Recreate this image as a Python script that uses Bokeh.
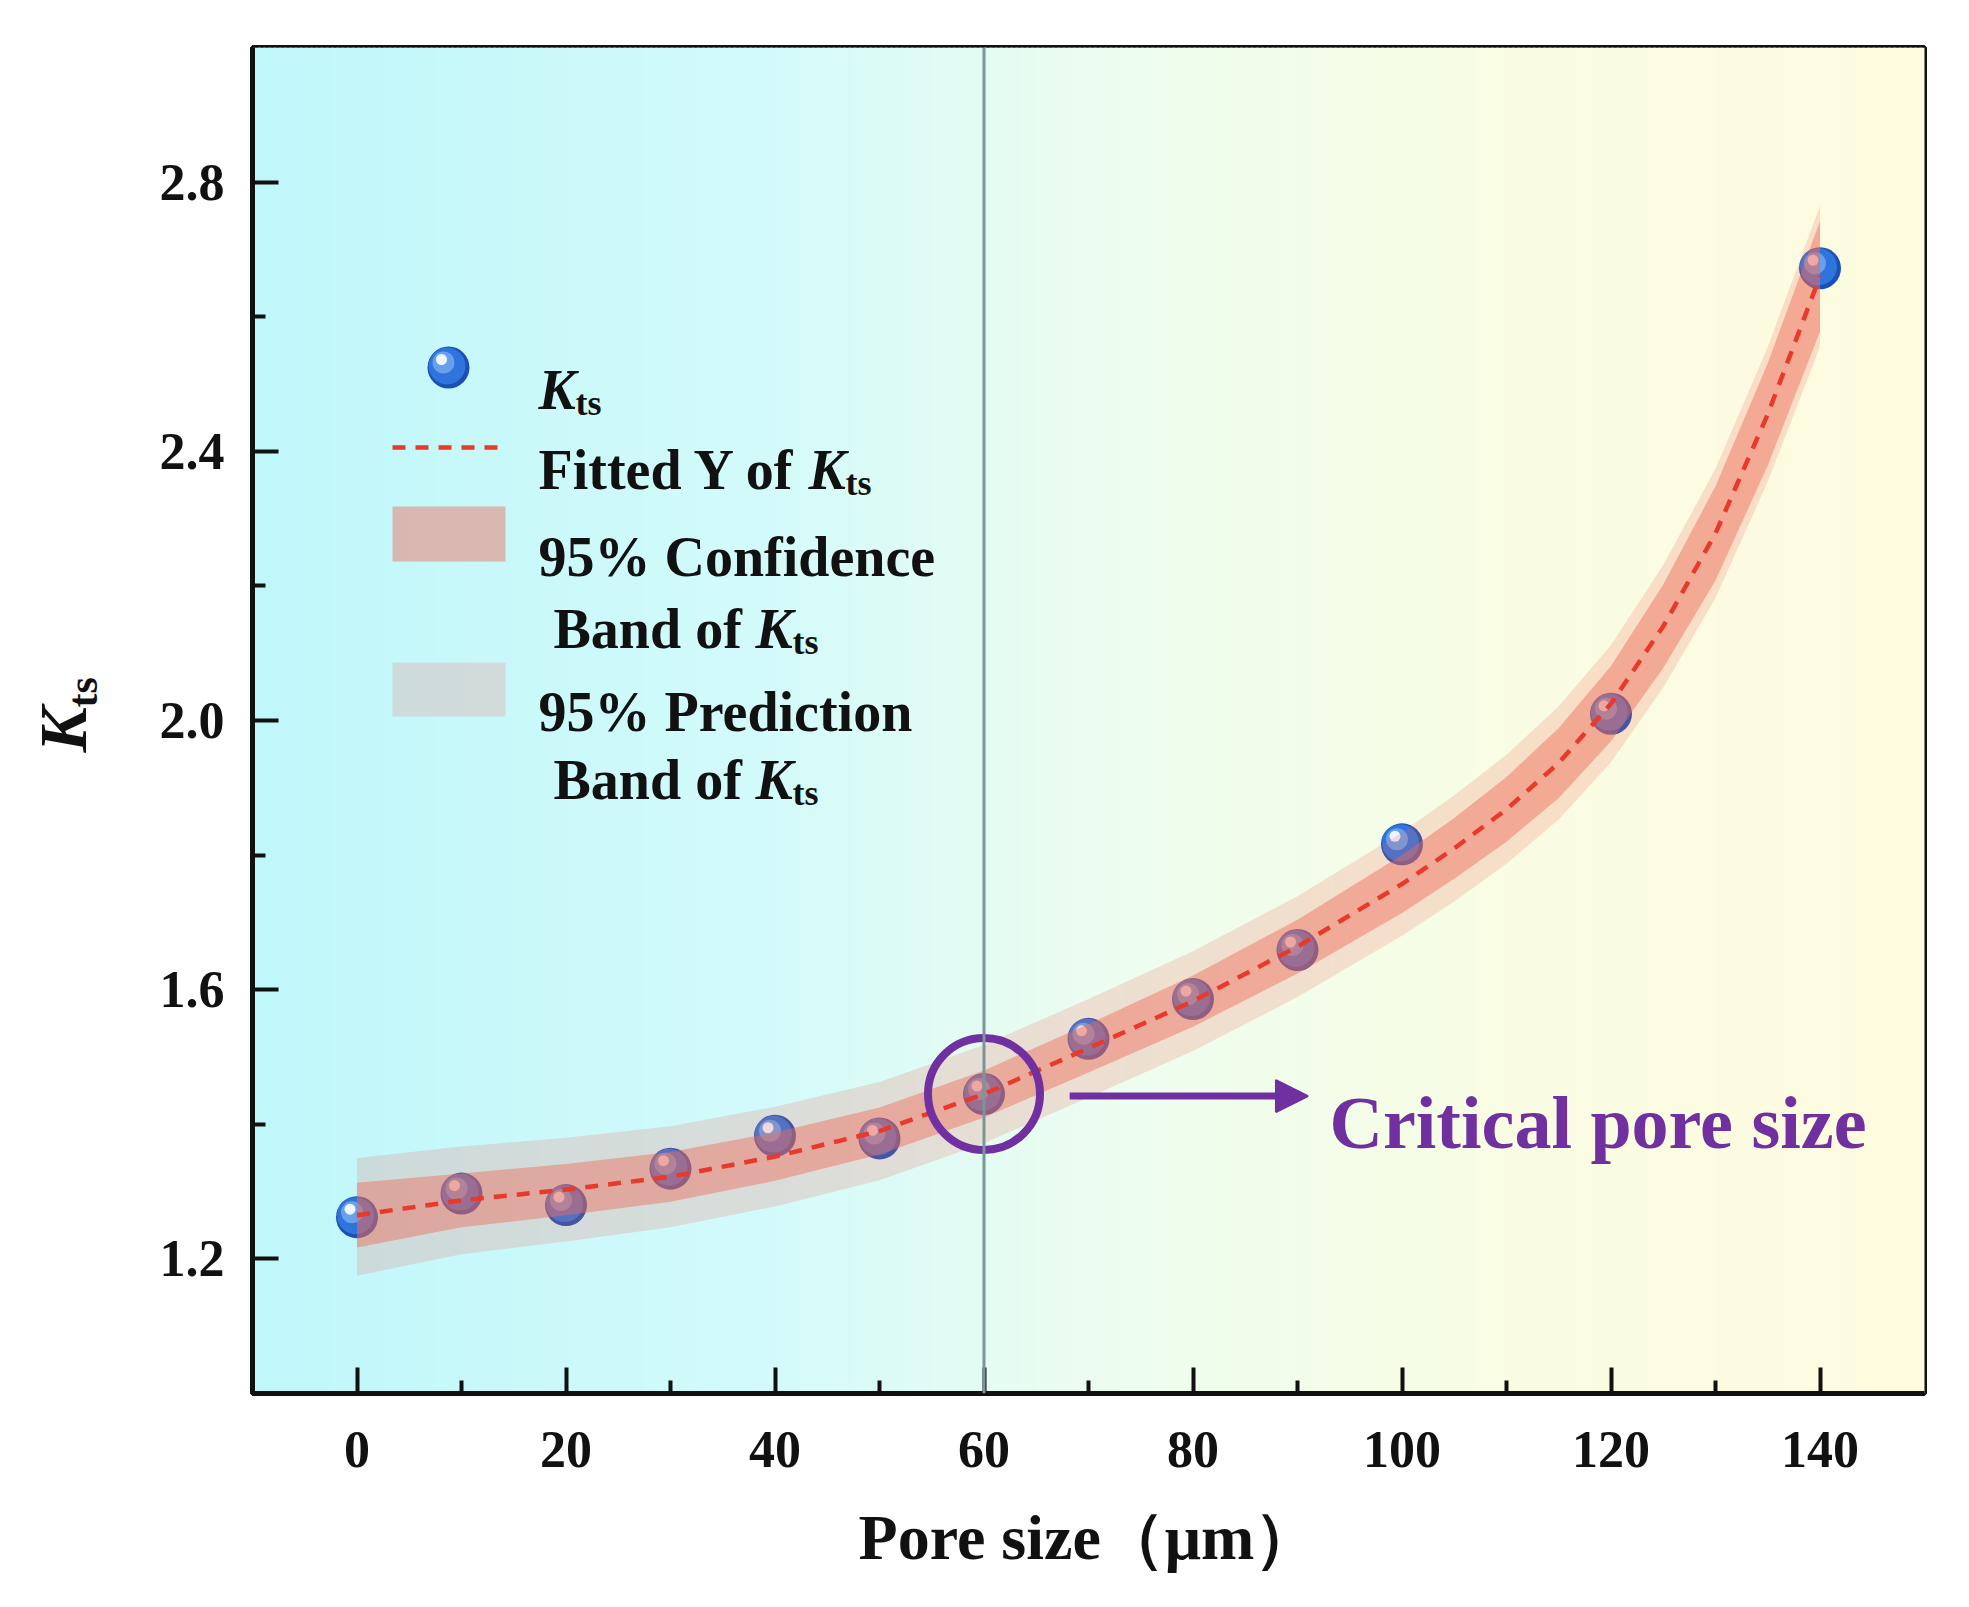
import numpy as np
from math import pi
from bokeh.plotting import figure
from bokeh.layouts import row
from bokeh.models import (Range1d, FixedTicker, Span, Label, Arrow, NormalHead,
                          ColumnDataSource, PrintfTickFormatter)
from bokeh.transform import dodge
from bokeh.embed import file_html
from bokeh.resources import INLINE

# ---------------- data ----------------
pore_size = [0, 10, 20, 30, 40, 50, 60, 70, 80, 90, 100, 120, 140]
k_ts = [1.262, 1.297, 1.280, 1.334, 1.383, 1.379, 1.445, 1.527, 1.586, 1.659, 1.816, 2.010, 2.672]

fit_x = [0, 10, 20, 30, 40, 50, 60, 70, 80, 90, 100, 105, 110, 115, 120, 125, 130, 135, 140]
fit_y = [1.265, 1.287, 1.303, 1.322, 1.352, 1.390, 1.445, 1.513, 1.583, 1.664, 1.757, 1.810,
         1.868, 1.937, 2.025, 2.140, 2.278, 2.455, 2.660]
conf_upper = [1.313, 1.327, 1.341, 1.359, 1.388, 1.425, 1.480, 1.549, 1.621, 1.704, 1.800, 1.855,
              1.916, 1.989, 2.081, 2.202, 2.348, 2.531, 2.742]
conf_lower = [1.217, 1.247, 1.265, 1.285, 1.316, 1.355, 1.410, 1.477, 1.545, 1.624, 1.714, 1.765,
              1.820, 1.885, 1.969, 2.078, 2.208, 2.379, 2.578]
pred_upper = [1.350, 1.367, 1.380, 1.397, 1.426, 1.463, 1.518, 1.586, 1.657, 1.739, 1.834, 1.889,
              1.949, 2.021, 2.112, 2.231, 2.374, 2.555, 2.765]
pred_lower = [1.175, 1.207, 1.226, 1.247, 1.278, 1.317, 1.372, 1.440, 1.509, 1.589, 1.680, 1.731,
              1.787, 1.853, 1.938, 2.049, 2.182, 2.355, 2.555]

x_major = [0, 20, 40, 60, 80, 100, 120, 140]
x_minor = [10, 30, 50, 70, 90, 110, 130]
y_major = [1.2, 1.6, 2.0, 2.4, 2.8]
y_minor = [1.4, 1.8, 2.2, 2.6]
critical_index = 6

# ---------------- layout / style ----------------
X0, X1, Y0, Y1 = -10, 150, 1.0, 3.0
FW, FH = 1672, 1346
TOP, BOTTOM = 47, 198
LEFT_W = 130            # strip holding the y-axis title
PX_X = FW / (X1 - X0)
PX_Y = FH / (Y1 - Y0)

def fx(px):  # frame px from left -> data x
    return X0 + px / PX_X

def fy(py):  # frame px from top -> data y
    return Y1 - py / PX_Y

FONT = "Liberation Serif"
INK = "#111111"
PURPLE = "#7030a0"
BAND = "#ee6a58"
DASH_RED = "#e8392a"

p = figure(frame_width=FW, frame_height=FH, x_range=Range1d(X0, X1), y_range=Range1d(Y0, Y1),
           min_border_left=252 - LEFT_W, min_border_right=29, min_border_top=TOP,
           min_border_bottom=BOTTOM, output_backend="svg", toolbar_location=None,
           background_fill_color="white", border_fill_color="white")
p.grid.visible = False
p.outline_line_color = INK
p.outline_line_width = 5
p.outline_line_alpha = 1

# background gradient (style)
stops_x = [-10, 40, 70, 110, 150]
stops_c = np.array([[192, 247, 250], [212, 251, 250], [236, 253, 240], [249, 253, 228], [255, 251, 223]])
n = 320
edges = np.linspace(X0, X1, n + 1)
mids = 0.5 * (edges[:-1] + edges[1:])
cols = []
for m in mids:
    r = np.interp(m, stops_x, stops_c[:, 0]); g = np.interp(m, stops_x, stops_c[:, 1]); b = np.interp(m, stops_x, stops_c[:, 2])
    cols.append("#%02x%02x%02x" % (int(r), int(g), int(b)))
step = (X1 - X0) / n
p.quad(left=edges[:-1], right=edges[:-1] + step * 1.6, bottom=Y0, top=Y1, fill_color=cols, line_color=None)

# spheres
def spheres(xs, ys):
    src = ColumnDataSource(dict(x=xs, y=ys))
    p.scatter(x="x", y="y", source=src, size=42, fill_color="#1c4fb4", line_color=None)
    p.scatter(x=dodge("x", -1.5 / PX_X), y=dodge("y", 1.5 / PX_Y), source=src, size=37,
              fill_color="#2f73dc", line_color=None)
    p.scatter(x=dodge("x", -5 / PX_X), y=dodge("y", 5 / PX_Y), source=src, size=22,
              fill_color="#76acf0", line_color=None, fill_alpha=0.8)
    p.scatter(x=dodge("x", -7 / PX_X), y=dodge("y", 8 / PX_Y), source=src, size=11,
              fill_color="#ffffff", line_color=None, fill_alpha=0.9)

spheres(pore_size, k_ts)

# bands and fit
p.varea(x=fit_x, y1=pred_lower, y2=pred_upper, fill_color=BAND, fill_alpha=0.2)
p.varea(x=fit_x, y1=conf_lower, y2=conf_upper, fill_color=BAND, fill_alpha=0.45)
p.line(x=fit_x, y=fit_y, line_color=DASH_RED, line_width=4.5, line_dash="13 10")

# vertical line at the critical size
p.add_layout(Span(location=pore_size[critical_index], dimension="height",
                  line_color="#7a9696", line_width=3))

# circle, arrow, text
p.scatter(x=[pore_size[critical_index]], y=[k_ts[critical_index]], size=112, marker="circle",
          fill_color=None, line_color=PURPLE, line_width=8)
p.add_layout(Arrow(x_start=pore_size[critical_index] + 8.2, y_start=k_ts[critical_index] - 0.003,
                   x_end=pore_size[critical_index] + 31.0, y_end=k_ts[critical_index] - 0.003,
                   line_color=PURPLE, line_width=7,
                   end=NormalHead(size=32, fill_color=PURPLE, line_color=PURPLE, line_width=2)))
p.add_layout(Label(x=fx(1077), y=fy(1075), text="Critical pore size", text_font=FONT,
                   text_font_style="bold", text_font_size="74px", text_color=PURPLE,
                   text_align="left", text_baseline="alphabetic"))

# ---------------- legend (drawn by hand for the subscripts) ----------------
def txt(fig, x, y, s, size="56px", style="bold", angle=0):
    fig.add_layout(Label(x=x, y=y, text=s, text_font=FONT, text_font_style=style,
                         text_font_size=size, text_color=INK, text_align="left",
                         text_baseline="alphabetic", angle=angle))

spheres([fx(196)], [fy(320)])
txt(p, fx(286), fy(342), "K", style="bold italic")
txt(p, fx(323), fy(355), "ts", size="36px")

p.line(x=[fx(140), fx(250)], y=[fy(400), fy(400)], line_color=DASH_RED, line_width=4.5, line_dash="13 10")
txt(p, fx(286), fy(422), "Fitted Y of")
txt(p, fx(556), fy(422), "K", style="bold italic")
txt(p, fx(593), fy(435), "ts", size="36px")

p.quad(left=[fx(140)], right=[fx(253)], top=[fy(459)], bottom=[fy(514)], fill_color=BAND,
       fill_alpha=0.45, line_color=None)
txt(p, fx(286), fy(509), "95% Confidence")
txt(p, fx(301), fy(581), "Band of")
txt(p, fx(503), fy(581), "K", style="bold italic")
txt(p, fx(540), fy(594), "ts", size="36px")

p.quad(left=[fx(140)], right=[fx(253)], top=[fy(615)], bottom=[fy(669)], fill_color=BAND,
       fill_alpha=0.2, line_color=None)
txt(p, fx(286), fy(664), "95% Prediction")
txt(p, fx(301), fy(732), "Band of")
txt(p, fx(503), fy(732), "K", style="bold italic")
txt(p, fx(540), fy(745), "ts", size="36px")

# ---------------- axes ----------------
p.xaxis.ticker = FixedTicker(ticks=x_major, minor_ticks=x_minor)
p.yaxis.ticker = FixedTicker(ticks=y_major, minor_ticks=y_minor)
p.yaxis.formatter = PrintfTickFormatter(format="%.1f")
for ax in (p.xaxis, p.yaxis):
    ax.axis_line_color = INK
    ax.axis_line_width = 5
    ax.major_tick_in = 26
    ax.major_tick_out = 0
    ax.minor_tick_in = 13
    ax.minor_tick_out = 0
    ax.major_tick_line_color = INK
    ax.minor_tick_line_color = INK
    ax.major_tick_line_width = 4
    ax.minor_tick_line_width = 4
    ax.major_label_text_font = FONT
    ax.major_label_text_font_style = "bold"
    ax.major_label_text_font_size = "52px"
    ax.major_label_text_color = INK
p.xaxis.major_label_standoff = 38
p.yaxis.major_label_standoff = 28
p.xaxis.axis_label = "Pore size（μm）"
p.xaxis.axis_label_text_font = FONT
p.xaxis.axis_label_text_font_style = "bold"
p.xaxis.axis_label_text_font_size = "64px"
p.xaxis.axis_label_text_color = INK
p.xaxis.axis_label_standoff = 32

# ---------------- y-axis title strip (K with subscript ts) ----------------
lt = figure(frame_width=LEFT_W, frame_height=FH, x_range=Range1d(0, LEFT_W), y_range=Range1d(0, FH),
            min_border_left=0, min_border_right=0, min_border_top=TOP, min_border_bottom=BOTTOM,
            output_backend="svg", toolbar_location=None, border_fill_color="white",
            background_fill_color="white")
lt.axis.visible = False
lt.grid.visible = False
lt.outline_line_color = None
txt(lt, 62, FH - 705, "K", size="68px", style="bold italic", angle=pi / 2)
txt(lt, 82, FH - 660, "ts", size="42px", angle=pi / 2)

layout = row(lt, p)
open("out.html", "w").write(file_html(layout, INLINE))
